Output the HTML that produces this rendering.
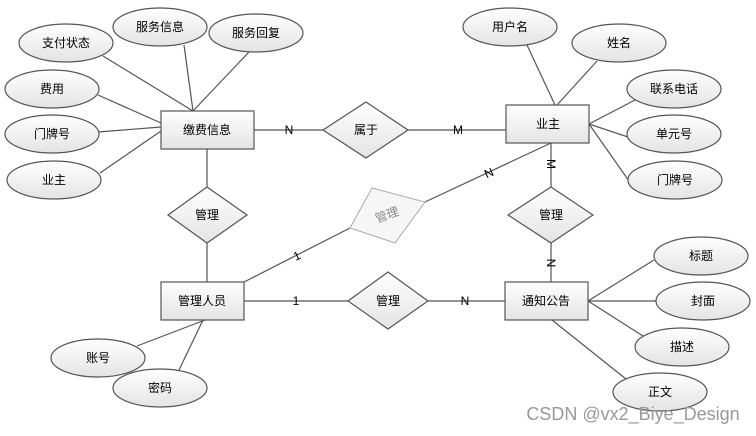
<!DOCTYPE html>
<html><head><meta charset="utf-8"><style>body{margin:0;background:#fff}svg{display:block}text{font-family:"Liberation Sans","Noto Sans CJK SC",sans-serif;font-size:12px;fill:#000;text-anchor:middle;dominant-baseline:central}</style></head><body>
<svg width="756" height="436" viewBox="0 0 756 436">
<defs><linearGradient id="g" x1="0" y1="0" x2="0" y2="1"><stop offset="0" stop-color="#fff"/><stop offset="1" stop-color="#e4e4e4"/></linearGradient></defs>
<g stroke="#555" stroke-width="1.2" fill="none">
<line x1="103" y1="56" x2="193" y2="111"/><line x1="184" y1="45" x2="193" y2="111"/><line x1="249" y1="52" x2="193" y2="111"/>
<line x1="98" y1="95" x2="161" y2="123"/><line x1="98" y1="132" x2="161" y2="127"/><line x1="100" y1="173" x2="161" y2="131"/>
<line x1="254" y1="130" x2="323" y2="130"/><line x1="408" y1="130" x2="506" y2="130"/>
<line x1="207" y1="149" x2="207" y2="187"/><line x1="207" y1="243" x2="207" y2="282"/>
<line x1="527" y1="45" x2="555" y2="105"/><line x1="597" y1="61" x2="557" y2="105"/>
<line x1="635" y1="100" x2="589" y2="124"/><line x1="628" y1="137" x2="589" y2="124"/><line x1="629" y1="181" x2="589" y2="124"/>
<line x1="551" y1="143" x2="551" y2="187"/><line x1="551" y1="243" x2="551" y2="282"/>
<line x1="551" y1="143" x2="425" y2="202"/><line x1="350" y1="228" x2="244" y2="282"/>
<line x1="244" y1="301" x2="348" y2="301"/><line x1="428" y1="301" x2="505" y2="301"/>
<line x1="205" y1="320" x2="137" y2="346"/><line x1="203" y1="320" x2="179" y2="370"/>
<line x1="588" y1="301" x2="654" y2="260"/><line x1="588" y1="301" x2="656" y2="301"/><line x1="588" y1="301" x2="643" y2="336"/><line x1="552" y1="320" x2="626" y2="379"/>
</g>
<g stroke="#555" stroke-width="1.2" fill="url(#g)">
<rect x="161" y="111" width="93" height="38"/><rect x="506" y="105" width="83" height="38"/><rect x="161" y="282" width="83" height="38"/><rect x="505" y="282" width="83" height="38"/>
<polygon points="323,130 366,102 408,130 366,158"/><polygon points="168,215 207,187 247,215 207,243"/><polygon points="508,215 551,187 593,215 551,243"/><polygon points="348,301 388,272 428,301 388,329"/>
<ellipse cx="66" cy="43" rx="47" ry="19"/><ellipse cx="160" cy="27" rx="47" ry="19"/><ellipse cx="256" cy="33" rx="47" ry="19"/>
<ellipse cx="52" cy="89" rx="47" ry="19"/><ellipse cx="52" cy="134" rx="47" ry="19"/><ellipse cx="54" cy="180" rx="47" ry="19"/>
<ellipse cx="510" cy="27" rx="47" ry="19"/><ellipse cx="619" cy="43" rx="47" ry="19"/><ellipse cx="674" cy="89" rx="47" ry="19"/><ellipse cx="674" cy="134" rx="47" ry="19"/><ellipse cx="675" cy="180" rx="47" ry="19"/>
<ellipse cx="701" cy="256" rx="47" ry="19"/><ellipse cx="703" cy="301" rx="47" ry="19"/><ellipse cx="682" cy="347" rx="47" ry="19"/><ellipse cx="660" cy="392" rx="47" ry="19"/>
<ellipse cx="98" cy="358" rx="47" ry="19"/><ellipse cx="160" cy="388" rx="47" ry="19"/>
</g>
<polygon points="350,228 372,188 425,202 395,243" fill="#f6f6f6" stroke="#aaa" stroke-width="1"/>
<text x="207" y="130">缴费信息</text><text x="548" y="124">业主</text><text x="202" y="301">管理人员</text><text x="546" y="301">通知公告</text>
<g style="font-size:10px"><text x="366" y="130">属于</text><text x="207" y="215">管理</text><text x="551" y="215">管理</text><text x="388" y="301">管理</text>
<text x="387" y="215" transform="rotate(-20 387 215)" style="fill:#888">管理</text></g>
<text x="66" y="43">支付状态</text><text x="160" y="27">服务信息</text><text x="256" y="33">服务回复</text><text x="52" y="89">费用</text><text x="52" y="134">门牌号</text><text x="54" y="180">业主</text>
<text x="510" y="27">用户名</text><text x="619" y="43">姓名</text><text x="674" y="89">联系电话</text><text x="674" y="134">单元号</text><text x="675" y="180">门牌号</text>
<text x="701" y="256">标题</text><text x="703" y="301">封面</text><text x="682" y="347">描述</text><text x="660" y="392">正文</text><text x="98" y="358">账号</text><text x="160" y="388">密码</text>
<g style="font-size:11px"><text x="289" y="130">N</text><text x="458" y="130">M</text><text x="551" y="164" transform="rotate(90 551 164)">M</text><text x="489" y="173" transform="rotate(-25 489 173)">N</text><text x="297" y="256" transform="rotate(-25 297 256)">1</text><text x="296" y="301">1</text><text x="465" y="301">N</text><text x="551" y="263" transform="rotate(90 551 263)">N</text></g>
<text x="633" y="414" style="font-size:18px;fill:#999">CSDN @vx2_Biye_Design</text>
</svg></body></html>
